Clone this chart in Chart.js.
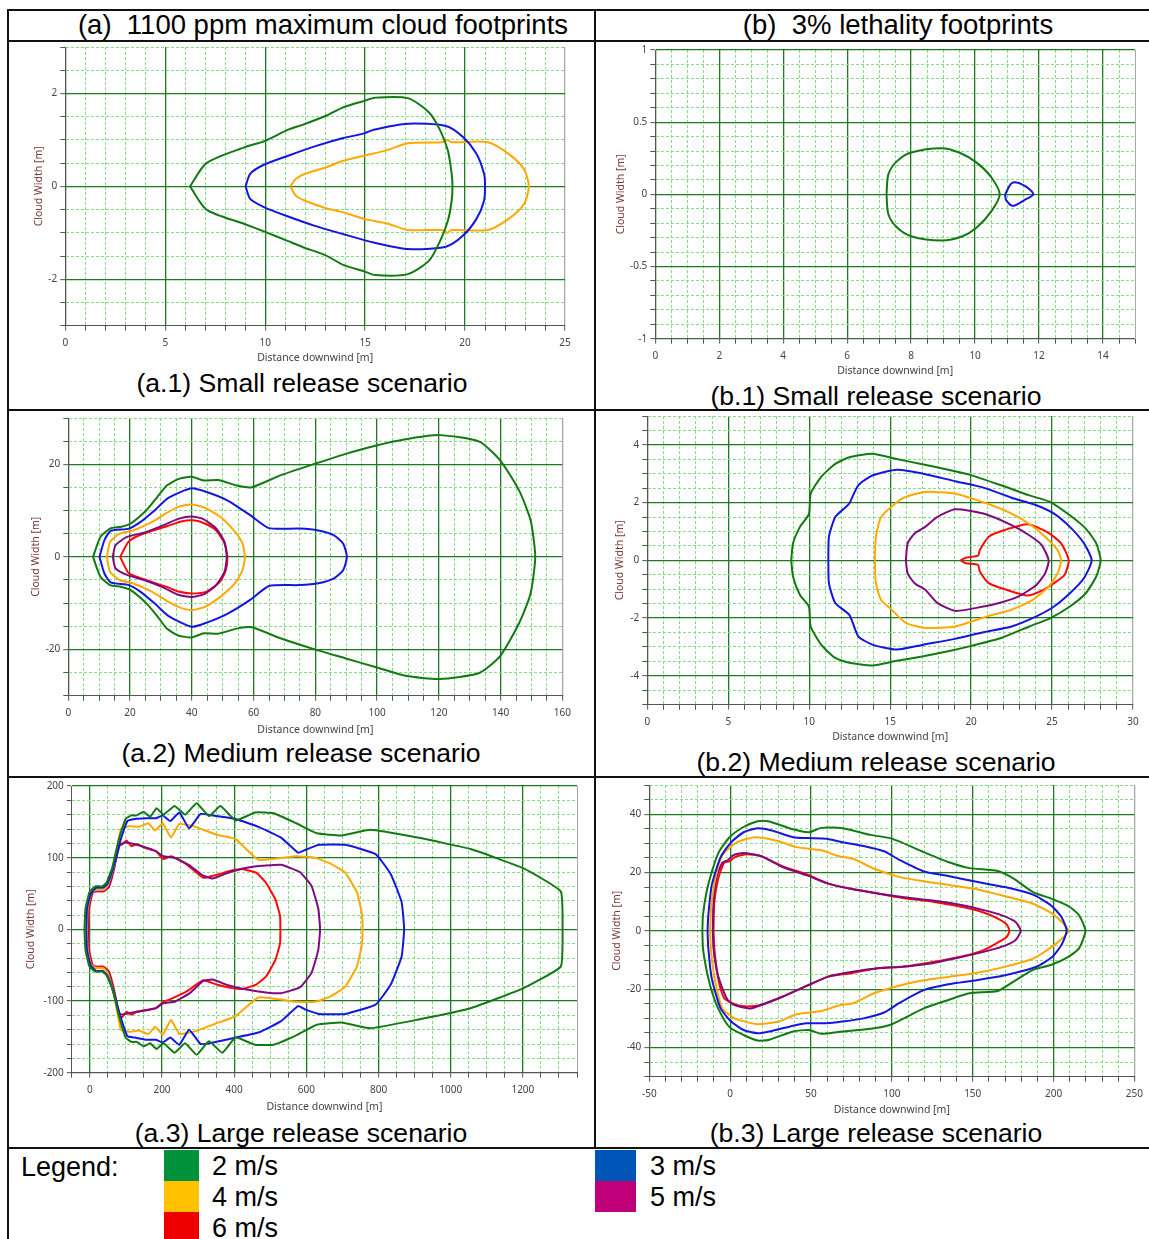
<!DOCTYPE html>
<html lang="en">
<head>
<meta charset="UTF-8">
<title>Cloud footprints</title>
<style>
  body { margin: 0; width: 1149px; height: 1239px; position: relative; background: #fff; overflow: hidden;
         font-family: "Liberation Sans", Arial, sans-serif; }
  .rule { position: absolute; background: #111; }
  .cap { position: absolute; transform: translate(-50%, -50%); white-space: nowrap; font-size: 26.6px; color: #000; }
  .head { font-size: 27.5px; }
  .leg { position: absolute; transform: translateY(-50%); white-space: nowrap; font-size: 27px; color: #000; }
  .sw { position: absolute; }
  canvas { position: absolute; }
</style>
</head>
<body>
<!-- table rules -->
<div class="rule" style="left:8px;top:9px;width:1141px;height:2px"></div>
<div class="rule" style="left:8px;top:40px;width:1141px;height:2px"></div>
<div class="rule" style="left:8px;top:409px;width:1141px;height:2px"></div>
<div class="rule" style="left:8px;top:776px;width:1141px;height:2px"></div>
<div class="rule" style="left:8px;top:1147px;width:1141px;height:2px"></div>
<div class="rule" style="left:7px;top:9px;width:2px;height:1230px"></div>
<div class="rule" style="left:594px;top:9px;width:2px;height:1140px"></div>

<div class="cap head" style="left:323px;top:25px">(a)&nbsp; 1100 ppm maximum cloud footprints</div>
<div class="cap head" style="left:898px;top:25px">(b)&nbsp; 3% lethality footprints</div>

<div class="cap" style="left:302px;top:383px">(a.1) Small release scenario</div>
<div class="cap" style="left:876px;top:396px">(b.1) Small release scenario</div>
<div class="cap" style="left:301px;top:753px">(a.2) Medium release scenario</div>
<div class="cap" style="left:876px;top:762px">(b.2) Medium release scenario</div>
<div class="cap" style="left:301px;top:1133px">(a.3) Large release scenario</div>
<div class="cap" style="left:876px;top:1133px">(b.3) Large release scenario</div>

<!-- legend row -->
<div class="leg" style="left:21px;top:1167px">Legend:</div>
<div class="sw" style="left:164px;top:1150px;width:35px;height:31px;background:#00913a"></div>
<div class="sw" style="left:164px;top:1181px;width:35px;height:31px;background:#ffc000"></div>
<div class="sw" style="left:164px;top:1212px;width:35px;height:27px;background:#ee0000"></div>
<div class="leg" style="left:212px;top:1166px">2 m/s</div>
<div class="leg" style="left:212px;top:1197px">4 m/s</div>
<div class="leg" style="left:212px;top:1228px">6 m/s</div>
<div class="sw" style="left:595px;top:1150px;width:41px;height:31px;background:#0055b8"></div>
<div class="sw" style="left:595px;top:1181px;width:41px;height:31px;background:#c0007a"></div>
<div class="leg" style="left:650px;top:1166px">3 m/s</div>
<div class="leg" style="left:650px;top:1197px">5 m/s</div>

<canvas id="a1"></canvas>
<canvas id="b1"></canvas>
<canvas id="a2"></canvas>
<canvas id="b2"></canvas>
<canvas id="a3"></canvas>
<canvas id="b3"></canvas>

<script src="https://cdn.jsdelivr.net/npm/chart.js@4"></script>
<script>
// ---- contour data: [distance downwind m, cloud width m] ----
const speeds = ['2 m/s', '3 m/s', '4 m/s', '5 m/s', '6 m/s'];

// (a.1) small release, 1100 ppm
const a1_2ms = [[6.24,0],[7.06,0.5],[8.96,0.84],[10.0,0.98],[11.15,1.22],[11.9,1.33],[13.05,1.52],[13.9,1.7],[14.95,1.84],[15.49,1.91],[17.14,1.9],[18.2,1.59],[18.76,1.2],[19.14,0.77],[19.33,0.27],[19.37,0],[19.33,-0.31],[19.14,-0.74],[18.76,-1.17],[18.2,-1.6],[17.14,-1.89],[15.49,-1.91],[14.95,-1.83],[13.9,-1.69],[13.05,-1.49],[11.9,-1.31],[11.15,-1.18],[10.0,-0.98],[8.96,-0.81],[7.06,-0.5]];
const a1_3ms = [[9.02,0],[9.25,0.27],[9.91,0.46],[11.15,0.66],[12.48,0.86],[13.91,1.04],[14.95,1.14],[15.43,1.22],[17.14,1.35],[19.04,1.3],[19.9,1.06],[20.57,0.7],[20.95,0.27],[21.0,0],[20.95,-0.31],[20.57,-0.7],[19.9,-1.06],[19.04,-1.3],[17.14,-1.35],[15.43,-1.21],[13.91,-1.03],[12.48,-0.85],[11.15,-0.65],[9.91,-0.44],[9.25,-0.27]];
const a1_4ms = [[11.26,0],[11.53,0.16],[12.0,0.27],[13.05,0.41],[13.91,0.55],[14.95,0.66],[16.1,0.78],[17.14,0.93],[18.85,0.95],[19.1,1.0],[19.33,0.95],[21.14,0.95],[22.18,0.7],[22.95,0.37],[23.19,0],[22.95,-0.38],[22.18,-0.7],[21.14,-0.94],[19.33,-0.94],[19.1,-1.0],[18.85,-0.94],[17.14,-0.94],[16.1,-0.8],[14.95,-0.7],[13.91,-0.56],[13.05,-0.47],[12.0,-0.31],[11.53,-0.2]];

// (b.1) small release, 3% lethality
const b1_2ms = [[7.23,0],[7.29,0.14],[7.56,0.23],[8.0,0.29],[8.95,0.32],[9.5,0.29],[10.05,0.22],[10.5,0.12],[10.77,0],[10.5,-0.12],[10.05,-0.23],[9.61,-0.29],[8.95,-0.32],[8.0,-0.29],[7.56,-0.23],[7.29,-0.14]];
const b1_3ms = [[10.94,0],[11.16,0.08],[11.54,0.06],[11.82,0],[11.54,-0.04],[11.19,-0.08],[10.97,-0.04]];

// (a.2) medium release, 1100 ppm
const a2_2ms = [[8.0,0],[10.4,4.3],[13.5,6.1],[17.2,6.5],[20.2,7.2],[25.2,10.0],[28.8,12.9],[31.9,15.4],[35.6,16.8],[39.9,17.3],[43.9,16.5],[48.5,16.6],[55.2,15.3],[59.5,15.05],[68.7,17.6],[79.8,20.1],[89.6,22.2],[99.4,24.0],[109.2,25.4],[120.2,26.3],[133.1,24.9],[139.9,20.8],[146.0,14.3],[149.7,7.9],[151.2,0],[149.7,-7.9],[146.0,-14.3],[139.9,-21.4],[133.1,-25.1],[120.2,-26.4],[109.2,-25.7],[99.4,-23.8],[89.6,-21.9],[79.8,-20.0],[68.7,-17.6],[59.5,-15.2],[55.2,-15.4],[48.5,-16.6],[43.9,-16.5],[39.9,-17.4],[35.6,-17.0],[31.9,-15.5],[28.8,-12.8],[25.2,-10.0],[20.2,-7.2],[17.2,-6.5],[13.5,-6.1],[10.4,-4.3]];
const a2_3ms = [[10.1,0],[11.7,3.6],[13.7,5.6],[19.6,6.1],[23.3,7.5],[28.2,10.2],[32.5,12.8],[39.9,14.8],[44.8,14.0],[51.5,12.2],[58.9,9.0],[65.0,6.2],[74.8,6.1],[81.0,5.7],[85.9,4.7],[89.0,2.9],[90.2,0],[89.0,-2.9],[85.9,-4.7],[81.0,-5.7],[74.8,-6.1],[65.0,-6.3],[58.9,-9.3],[51.5,-12.3],[44.8,-14.2],[39.9,-15.1],[32.5,-12.8],[28.2,-10.2],[23.3,-7.5],[19.6,-6.1],[13.7,-5.5],[11.7,-3.6]];
const a2_4ms = [[12.5,0],[13.5,3.2],[16.6,5.0],[20.9,5.7],[27.0,7.5],[31.9,9.5],[35.6,10.8],[39.9,11.3],[44.2,10.6],[49.1,8.7],[54.0,5.4],[56.4,2.9],[57.2,0],[56.4,-2.9],[54.0,-5.7],[49.1,-8.7],[44.2,-10.8],[39.9,-11.5],[35.6,-10.8],[31.9,-9.5],[27.0,-7.5],[20.9,-5.7],[16.6,-5.0],[13.5,-3.2]];
const a2_5ms = [[14.4,0],[15.3,2.5],[19.0,4.3],[24.5,5.2],[30.7,6.8],[35.6,8.2],[39.9,8.7],[43.6,8.2],[47.9,6.1],[50.6,3.2],[51.3,0],[50.6,-3.2],[47.9,-6.1],[44.2,-8.0],[39.9,-8.7],[35.6,-8.2],[30.7,-6.6],[24.5,-5.0],[19.0,-3.9],[15.3,-2.5]];
const a2_6ms = [[16.8,0],[19.4,3.2],[22.1,4.4],[27.0,5.6],[31.9,6.6],[36.8,7.7],[40.5,7.9],[44.2,7.2],[47.9,5.7],[50.6,2.9],[51.5,0],[51.0,-2.9],[49.1,-5.4],[44.8,-7.5],[39.9,-7.9],[35.6,-7.5],[31.9,-6.5],[27.0,-5.4],[22.1,-4.3],[19.4,-3.4]];

// (b.2) medium release, 3% lethality
const b2_2ms = [[8.89,0],[9.0,0.59],[9.43,1.16],[9.98,1.6],[10.09,2.31],[10.74,2.89],[11.61,3.34],[12.48,3.57],[13.9,3.69],[15.32,3.52],[17.06,3.32],[18.58,3.14],[19.89,2.97],[21.85,2.6],[23.6,2.25],[24.9,2.02],[26.1,1.56],[27.08,1.1],[27.73,0.59],[28.0,0],[27.73,-0.56],[27.08,-1.14],[26.1,-1.6],[24.9,-2.0],[23.6,-2.29],[21.85,-2.69],[19.89,-2.98],[18.58,-3.15],[17.06,-3.32],[15.32,-3.49],[13.9,-3.64],[12.48,-3.55],[11.61,-3.38],[10.74,-2.92],[10.09,-2.29],[9.98,-1.6],[9.43,-1.2],[9.0,-0.56]];
const b2_3ms = [[11.18,0],[11.22,0.82],[11.61,1.5],[12.26,1.85],[12.48,1.97],[13.03,2.6],[13.9,2.94],[15.42,3.14],[17.06,3.0],[19.02,2.74],[20.76,2.52],[22.5,2.17],[24.03,1.91],[25.12,1.62],[26.1,1.16],[26.97,0.59],[27.45,0],[26.97,-0.62],[26.1,-1.14],[25.12,-1.6],[24.03,-1.94],[22.5,-2.29],[20.76,-2.49],[19.02,-2.72],[17.06,-2.92],[15.42,-3.09],[13.9,-2.92],[13.03,-2.63],[12.48,-1.89],[11.61,-1.48],[11.22,-0.79]];
const b2_4ms = [[14.05,0],[14.12,0.82],[14.44,1.5],[15.32,1.97],[15.97,2.2],[17.17,2.37],[19.02,2.31],[20.98,1.97],[22.5,1.62],[23.7,1.22],[24.68,0.76],[25.34,0.36],[25.56,0],[25.34,-0.45],[24.79,-0.91],[23.81,-1.37],[22.5,-1.71],[20.98,-1.94],[19.02,-2.29],[17.17,-2.34],[15.97,-2.17],[15.0,-1.66],[14.44,-1.37],[14.12,-0.79]];
const b2_5ms = [[15.97,0],[16.08,0.59],[16.51,0.93],[17.17,1.16],[17.93,1.51],[19.02,1.77],[20.76,1.62],[22.5,1.22],[23.59,0.87],[24.36,0.53],[24.79,0],[24.57,-0.45],[24.03,-0.85],[22.94,-1.25],[21.85,-1.46],[20.76,-1.6],[19.02,-1.75],[17.93,-1.48],[17.17,-1.02],[16.51,-0.79],[16.08,-0.45]];
const b2_6ms = [[19.35,0],[19.67,0.09],[20.43,0.16],[20.54,0.36],[21.09,0.82],[22.07,1.05],[23.49,1.25],[24.68,0.99],[25.56,0.59],[26.03,0],[25.77,-0.51],[25.12,-0.79],[24.47,-1.02],[23.49,-1.22],[22.18,-1.02],[21.09,-0.79],[20.54,-0.39],[20.43,-0.16],[19.67,-0.1]];

// (a.3) large release, 1100 ppm
const a3_2ms = [[-15,0],[-12,29],[-1,52],[15,60],[34,60],[46,65],[62,86],[80,125],[99,154],[115,159],[130,159],[149,164],[167,157],[185,169],[204,160],[235,172],[264,160],[296,176],[330,158],[362,172],[404,152],[458,163],[509,162],[572,148],[629,134],[698,131],[777,139],[908,128],[1055,112],[1202,85],[1305,53],[1310,0],[1305,-52],[1202,-82],[1055,-110],[908,-126],[777,-138],[698,-130],[629,-133],[572,-148],[509,-161],[458,-161],[404,-151],[367,-172],[330,-156],[296,-175],[264,-159],[235,-172],[204,-159],[185,-167],[167,-159],[149,-163],[130,-157],[115,-157],[99,-151],[80,-119],[62,-82],[46,-64],[34,-59],[15,-59],[-1,-52],[-12,-29]];
const a3_3ms = [[-10,0],[-8,29],[2,49],[17,58],[36,58],[48,63],[65,86],[83,121],[104,151],[125,154],[157,155],[183,155],[202,159],[223,151],[248,163],[275,141],[307,161],[340,159],[404,154],[467,143],[530,128],[577,107],[598,111],[635,118],[708,118],[792,105],[834,77],[864,38],[871,0],[864,-38],[834,-77],[792,-105],[708,-118],[635,-118],[598,-112],[577,-107],[530,-128],[467,-144],[404,-151],[340,-158],[307,-160],[275,-140],[248,-161],[223,-151],[202,-158],[183,-154],[157,-154],[125,-151],[104,-149],[83,-119],[65,-87],[48,-64],[36,-58],[17,-58],[2,-50],[-8,-29]];
const a3_4ms = [[-8,0],[-6,29],[4,51],[19,55],[38,55],[50,61],[67,89],[86,140],[109,144],[136,143],[162,148],[181,138],[202,148],[225,128],[248,147],[293,143],[351,132],[404,126],[467,97],[572,102],[624,100],[666,92],[708,79],[740,52],[753,24],[756,0],[753,-24],[740,-52],[708,-80],[666,-94],[624,-101],[572,-101],[467,-95],[404,-121],[346,-132],[293,-142],[248,-146],[225,-126],[202,-147],[181,-136],[162,-146],[136,-141],[109,-143],[86,-140],[67,-91],[50,-61],[38,-54],[19,-54],[4,-50],[-6,-29]];
const a3_5ms = [[-6,0],[-4,29],[6,52],[21,54],[38,54],[52,59],[67,86],[83,118],[99,121],[130,118],[157,114],[183,109],[204,102],[235,100],[277,89],[314,75],[340,71],[383,79],[435,86],[488,89],[530,90],[582,80],[614,61],[633,29],[638,0],[633,-29],[614,-61],[582,-81],[530,-89],[488,-88],[435,-84],[383,-78],[340,-70],[314,-72],[277,-89],[235,-101],[204,-103],[183,-110],[157,-113],[130,-115],[99,-118],[83,-118],[67,-87],[52,-59],[38,-54],[21,-54],[6,-51],[-4,-29]];
const a3_6ms = [[-4,0],[-2,29],[8,51],[23,53],[38,53],[53,59],[67,84],[80,118],[88,118],[102,124],[115,116],[130,119],[151,114],[183,109],[204,98],[225,102],[267,91],[314,72],[351,76],[393,82],[425,84],[461,79],[488,65],[514,42],[527,19],[528,0],[527,-20],[514,-43],[488,-66],[461,-77],[425,-83],[393,-82],[351,-77],[314,-71],[267,-87],[225,-97],[204,-101],[183,-110],[151,-113],[130,-115],[115,-119],[102,-115],[88,-123],[80,-118],[67,-84],[53,-59],[38,-52],[23,-52],[8,-50],[-2,-29]];

// (b.3) large release, 3% lethality
const b3_2ms = [[-17.2,0],[-16.8,5.4],[-14.6,13.3],[-11.4,20.2],[-7.0,27.0],[-0.4,32.1],[8.3,35.6],[17.0,37.6],[23.6,37.6],[38.9,34.8],[48.7,33.8],[56.3,35.3],[69.4,35.2],[86.9,32.9],[100,31.6],[119.7,27.0],[134.9,23.6],[148.0,21.5],[165.5,20.5],[175.3,17.9],[187.3,13.3],[198.3,11.1],[209.2,8.5],[215.7,5.4],[219.7,0],[215.7,-6.0],[209.2,-8.9],[198.3,-11.7],[187.3,-13.4],[175.3,-17.4],[165.5,-20.6],[148.0,-21.4],[134.9,-23.7],[119.7,-26.6],[100,-32.0],[86.9,-33.6],[69.4,-34.5],[56.3,-35.3],[48.7,-34.0],[38.9,-34.5],[23.6,-37.4],[17.0,-37.6],[8.3,-35.7],[-0.4,-33.0],[-7.0,-27.1],[-11.4,-20.6],[-14.6,-13.4],[-16.8,-6.0]];
const b3_3ms = [[-14.0,0],[-13.5,5.4],[-11.4,15.6],[-5.9,25.3],[0.7,30.4],[8.3,33.8],[17.0,35.2],[25.8,34.4],[38.9,32.1],[47.6,31.8],[59.6,31.6],[69.4,30.4],[82.5,29.1],[95.6,27.2],[104.4,24.4],[119.7,20.4],[134.9,18.8],[152.4,16.8],[169.9,15.0],[187.3,12.4],[198.3,8.8],[204.8,4.8],[208.1,0],[204.8,-4.9],[199.3,-8.9],[189.5,-12.3],[169.9,-15.2],[152.4,-16.9],[134.9,-18.3],[119.7,-20.3],[104.4,-24.8],[95.6,-27.9],[82.5,-30.0],[69.4,-31.1],[59.6,-31.7],[47.6,-31.7],[38.9,-32.5],[25.8,-34.3],[17.0,-35.1],[8.3,-34.0],[0.7,-31.1],[-5.9,-26.6],[-11.4,-16.3],[-13.5,-6.0]];
const b3_4ms = [[-12.4,0],[-11.8,7.6],[-9.2,17.9],[-4.8,25.9],[2.8,29.9],[10.5,31.6],[17.0,32.1],[30.1,30.7],[41.0,28.7],[56.3,27.6],[67.2,25.6],[76.0,24.7],[89.1,21.3],[104.4,18.5],[119.7,17.0],[150.2,14.5],[167.7,12.2],[187.3,9.3],[200.4,5.4],[209.2,0],[200.4,-4.9],[187.3,-9.5],[167.7,-12.6],[150.2,-14.6],[119.7,-16.9],[104.4,-18.8],[89.1,-21.4],[76.0,-24.8],[67.2,-25.6],[56.3,-27.5],[41.0,-28.6],[30.1,-31.1],[17.0,-32.0],[10.5,-31.3],[2.8,-30.0],[-4.8,-26.6],[-9.2,-17.4],[-11.8,-7.2]];
const b3_5ms = [[-10.7,0],[-10.3,9.9],[-8.1,19.0],[-4.8,23.4],[-1.5,24.2],[1.7,25.9],[8.3,26.7],[19.2,25.6],[32.3,21.9],[47.6,19.0],[60.7,16.2],[73.8,14.5],[91.3,12.8],[106.6,11.6],[124.0,10.5],[143.7,8.8],[156.8,7.1],[167.7,5.4],[176.4,3.1],[179.7,0],[176.4,-3.2],[167.7,-5.5],[156.8,-7.2],[143.7,-8.9],[124.0,-11.2],[106.6,-12.3],[91.3,-12.8],[73.8,-14.2],[60.7,-15.7],[47.6,-18.8],[32.3,-22.6],[19.2,-25.4],[12.7,-26.6],[6.1,-26.0],[1.7,-25.2],[-1.5,-23.7],[-4.8,-19.7],[-8.1,-14.0],[-10.3,-6.0]];
const b3_6ms = [[-10.3,0],[-9.8,9.9],[-7.4,17.9],[-3.7,23.4],[-0.4,23.8],[2.8,25.3],[10.5,26.3],[19.2,25.6],[32.3,22.2],[47.6,19.3],[60.7,16.2],[73.8,14.5],[91.3,12.8],[106.6,11.3],[126.2,9.9],[145.9,7.9],[156.8,6.3],[165.5,4.2],[171.0,2.2],[172.7,0],[171.0,-2.1],[165.5,-4.0],[156.8,-6.6],[145.9,-8.4],[126.2,-10.6],[106.6,-12.3],[91.3,-12.8],[73.8,-14.6],[60.7,-15.7],[47.6,-18.8],[32.3,-22.6],[19.2,-25.4],[10.5,-25.9],[3.9,-25.4],[-0.4,-24.3],[-3.7,-23.1],[-7.0,-17.4],[-9.6,-7.2]];

// ---- styling / layout ----
const lineColors = ['#127a12', '#1515e0', '#ffa800', '#7f0a7f', '#ff0a0a'];
const PAD_T = 8, PAD_R = 14, TITLE_OFF = 10.3;

// box = chart area in page px [left, top, right, bottom]
const panels = [
  { id: 'a1', box: [65, 46, 565, 326], yTitleX: 39, xTitleY: 358, tension: 0.25,
    x: { min: 0, max: 25, step: 1, major: 5 }, y: { min: -3, max: 3, step: 0.5, major: 2 },
    series: [a1_2ms, a1_3ms, a1_4ms, null, null] },
  { id: 'b1', box: [655, 49, 1135, 339], yTitleX: 621, xTitleY: 371, tension: 0.3,
    x: { min: 0, max: 15, step: 0.5, major: 2 }, y: { min: -1, max: 1, step: 0.1, major: 0.5 },
    series: [b1_2ms, b1_3ms, null, null, null] },
  { id: 'a2', box: [68, 417, 563, 696], yTitleX: 36, xTitleY: 730, tension: 0.2,
    x: { min: 0, max: 160, step: 5, major: 20 }, y: { min: -30, max: 30, step: 5, major: 20 },
    series: [a2_2ms, a2_3ms, a2_4ms, a2_5ms, a2_6ms] },
  { id: 'b2', box: [647, 415, 1133, 705], yTitleX: 620, xTitleY: 737, tension: 0.2,
    x: { min: 0, max: 30, step: 1, major: 5 }, y: { min: -5, max: 5, step: 0.5, major: 2 },
    series: [b2_2ms, b2_3ms, b2_4ms, b2_5ms, b2_6ms] },
  { id: 'a3', box: [71.5, 785, 577, 1073], yTitleX: 31, xTitleY: 1107, tension: 0.12,
    x: { min: -50, max: 1350, step: 50, major: 200 }, y: { min: -200, max: 200, step: 20, major: 100 },
    series: [a3_2ms, a3_3ms, a3_4ms, a3_5ms, a3_6ms] },
  { id: 'b3', box: [649, 784, 1135, 1077], yTitleX: 617, xTitleY: 1110, tension: 0.2,
    x: { min: -50, max: 250, step: 10, major: 50 }, y: { min: -50, max: 50, step: 5, major: 20 },
    series: [b3_2ms, b3_3ms, b3_4ms, b3_5ms, b3_6ms] }
];

function isMajor(v, m) {
  const r = v / m;
  return Math.abs(r - Math.round(r)) < 1e-6;
}

function axis(a, position, title, titleColor, size) {
  const tickVal = c => (c && c.tick) ? c.tick.value : null;
  return {
    type: 'linear', position, min: a.min, max: a.max,
    ticks: {
      stepSize: a.step, autoSkip: false, maxRotation: 0, padding: position === 'bottom' ? 6 : 3, color: '#444',
      font: { family: 'Noto Sans', size: 10 },
      callback: v => isMajor(v, a.major) ? String(Math.round(v * 1000) / 1000) : ''
    },
    grid: {
      color: c => {
        const v = tickVal(c);
        if (v === null) return '#1f7a1f';
        if (position === 'bottom' && Math.abs(v - a.max) < 1e-9) return '#a8a8a8';
        return isMajor(v, a.major) ? '#1f7a1f' : '#86dd86';
      },
      lineWidth: c => {
        const v = tickVal(c);
        return v !== null && isMajor(v, a.major) ? 1.3 : 1;
      },
      drawTicks: true, tickLength: 5, tickColor: '#555', tickWidth: 1
    },
    border: {
      display: true, color: '#555', width: 1,
      dash: c => {
        const v = tickVal(c);
        if (v === null || isMajor(v, a.major)) return [];
        if (position === 'bottom' && Math.abs(v - a.max) < 1e-9) return [];
        return [3, 2];
      }
    },
    title: { display: true, text: title, color: titleColor, padding: { top: 4, bottom: 4 },
             font: { family: 'Noto Sans', size: 10.5 } },
    afterFit: s => { if (position === 'bottom') s.height = size; else s.width = size; }
  };
}

panels.forEach(p => {
  const [L, T, R, B] = p.box;
  const yW = L - p.yTitleX + TITLE_OFF;
  const xH = p.xTitleY - B + TITLE_OFF;
  const cv = document.getElementById(p.id);
  cv.width = Math.round(yW + (R - L) + PAD_R);
  cv.height = Math.round(PAD_T + (B - T) + xH);
  cv.style.left = (L - yW) + 'px';
  cv.style.top = (T - PAD_T) + 'px';

  const datasets = [];
  p.series.forEach((pts, i) => {
    if (!pts) return;
    const data = pts.map(q => ({ x: q[0], y: q[1] }));
    data.push({ x: pts[0][0], y: pts[0][1] });
    datasets.push({
      label: speeds[i], data, showLine: true, fill: false,
      borderColor: lineColors[i], borderWidth: 2,
      pointRadius: 0, tension: p.tension
    });
  });

  new Chart(cv, {
    type: 'scatter',
    data: { datasets },
    options: {
      responsive: false, animation: false, devicePixelRatio: 1,
      layout: { padding: { left: 0, top: PAD_T, right: PAD_R, bottom: 0 } },
      plugins: { legend: { display: false }, tooltip: { enabled: false } },
      scales: {
        x: axis(p.x, 'bottom', 'Distance downwind [m]', '#444', xH),
        y: axis(p.y, 'left', 'Cloud Width [m]', '#7a3a3a', yW)
      }
    }
  });
});
</script>
</body>
</html>
